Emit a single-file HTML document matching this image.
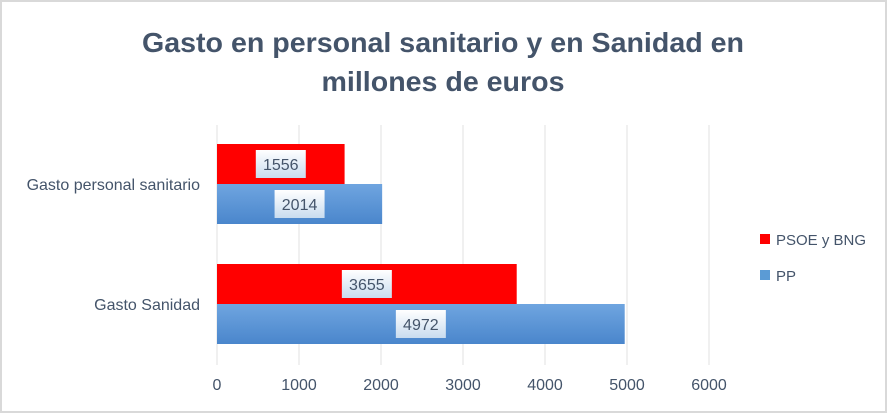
<!DOCTYPE html>
<html><head><meta charset="utf-8"><style>
html,body{margin:0;padding:0;background:#fff}
svg{display:block;font-family:"Liberation Sans",sans-serif}
</style></head><body>
<svg width="888" height="415" viewBox="0 0 888 415">
<defs>
<linearGradient id="gb" x1="0" y1="0" x2="0" y2="1"><stop offset="0" stop-color="#6fa5e0"/><stop offset="1" stop-color="#4a86cc"/></linearGradient>
<linearGradient id="gl" x1="0" y1="0" x2="0" y2="1"><stop offset="0" stop-color="#ffffff"/><stop offset="1" stop-color="#c9dcef"/></linearGradient>
</defs>
<rect x="1" y="1" width="885" height="411" fill="#fff" stroke="#d9d9d9" stroke-width="2"/>
<text x="443" y="52" text-anchor="middle" font-size="28" font-weight="bold" fill="#44546a" textLength="602" lengthAdjust="spacingAndGlyphs">Gasto en personal sanitario y en Sanidad en</text>
<text x="443" y="91" text-anchor="middle" font-size="28" font-weight="bold" fill="#44546a" textLength="243" lengthAdjust="spacingAndGlyphs">millones de euros</text>
<g id="grid"></g>
<g id="bars"></g>
<g id="xt"></g>
<g id="cats"></g>
<rect x="760" y="234" width="10" height="10" fill="#ff0000"/>
<text x="776" y="245" font-size="15" fill="#44546a">PSOE y BNG</text>
<rect x="760" y="270" width="10" height="10" fill="#5b9bd5"/>
<text x="776" y="281" font-size="15" fill="#44546a">PP</text>
</svg>
<script>
const categories=["Gasto personal sanitario","Gasto Sanidad"];
const psoeValues=[1556,3655];
const ppValues=[2014,4972];
const xTicks=[0,1000,2000,3000,4000,5000,6000];
const NS="http://www.w3.org/2000/svg";
const X0=217,X1=709,YT=125,YB=365;
const xs=v=>X0+(v-0)/(6000)*(X1-X0);
const bandH=(YB-YT)/categories.length;
function mk(tag,attrs,parent){const e=document.createElementNS(NS,tag);for(const k in attrs)e.setAttribute(k,attrs[k]);document.getElementById(parent).appendChild(e);return e;}
xTicks.forEach((t,i)=>{
 const g=mk('line',{x1:xs(t),x2:xs(t),y1:YT,y2:YB,stroke:'#e0e0e0','stroke-width':1},'grid');
 
 
 const l=mk('text',{x:xs(t),y:390,'text-anchor':'middle','font-size':16,fill:'#44546a'},'xt');
 l.textContent=t;
 
 
});
categories.forEach((c,i)=>{
 const cy=YT+bandH*(i+0.5)-1;
 const bh=40;
 const series=[[psoeValues[i],'#ff0000',cy-bh,'bar-psoe'],[ppValues[i],'url(#gb)',cy,'bar-pp']];
 series.forEach(s=>{
  const r=mk('rect',{x:X0,y:s[2],width:xs(s[0])-X0,height:bh,fill:s[1]},'bars');
  
  
  const mx=(X0+xs(s[0]))/2;
  const txt=String(s[0]);
  const w=txt.length*9.5+12;
  const b=mk('rect',{x:mx-w/2,y:s[2]+6,width:w,height:28,fill:'url(#gl)'},'bars');
  
  
  const t=mk('text',{x:mx,y:s[2]+26,'text-anchor':'middle','font-size':16,fill:'#44546a'},'bars');
  t.textContent=txt;
  
  
 });
 const cl=mk('text',{x:200,y:cy+6,'text-anchor':'end','font-size':16,fill:'#44546a'},'cats');
 cl.textContent=c;
 
 
});
</script>
</body></html>
